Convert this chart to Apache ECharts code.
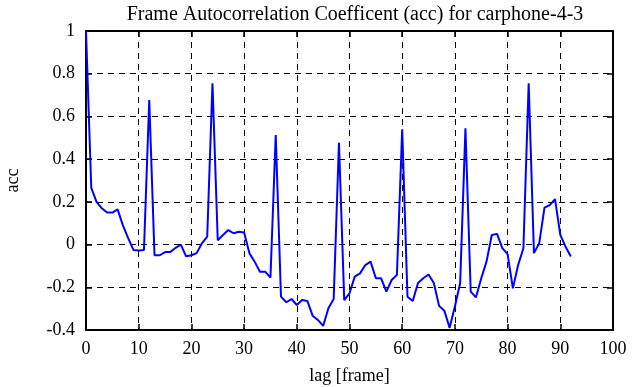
<!DOCTYPE html>
<html>
<head>
<meta charset="utf-8">
<script src="https://cdn.jsdelivr.net/npm/echarts@6/dist/echarts.min.js"></script>
<style>html,body{margin:0;padding:0;background:#fff}#c{width:635px;height:387px}</style>
</head>
<body>
<div id="c"></div>
<script>
const titleText = 'Frame Autocorrelation Coefficent (acc) for carphone-4-3';
const xName = 'lag [frame]';
const yName = 'acc';
const lags = [];
for (let i = 0; i <= 92; i++) lags.push(i);
const acc = [
  1.0, 0.265, 0.20, 0.17, 0.15, 0.15, 0.165, 0.09, 0.03, -0.025,
  -0.028, -0.025, 0.677, -0.05, -0.05, -0.035, -0.035, -0.015, 0.0, -0.055,
  -0.05, -0.04, 0.006, 0.037, 0.755, 0.02, 0.045, 0.068, 0.053, 0.06,
  0.057, -0.04, -0.08, -0.127, -0.127, -0.155, 0.513, -0.244, -0.27, -0.255,
  -0.283, -0.26, -0.264, -0.333, -0.353, -0.381, -0.298, -0.255, 0.477, -0.26,
  -0.228, -0.15, -0.135, -0.096, -0.08, -0.158, -0.158, -0.22, -0.166, -0.142,
  0.54, -0.244, -0.264, -0.18, -0.158, -0.14, -0.18, -0.287, -0.31, -0.39,
  -0.29, -0.18, 0.544, -0.22, -0.247, -0.158, -0.08, 0.045, 0.05, -0.017,
  -0.045, -0.205, -0.096, -0.017, 0.755, -0.04, 0.006, 0.173, 0.185, 0.213,
  0.045, -0.01, -0.056
];
const xTicks = [0,10,20,30,40,50,60,70,80,90,100];
const yTicks = [-0.4,-0.2,0,0.2,0.4,0.6,0.8,1];

const font = 'Liberation Serif';
const black = '#000';
const axisBase = {
  axisLine: { show: true, onZero: false, lineStyle: { color: black, width: 2 } },
  axisTick: { show: true, inside: true, length: 6, lineStyle: { color: black, width: 1.5 } },
};
const chart = echarts.init(document.getElementById('c'), null, { renderer: 'canvas' });
chart.setOption({
  animation: false,
  backgroundColor: '#fff',
  title: {
    text: titleText, left: 350, textAlign: 'center', top: 0,
    textStyle: { fontFamily: font, fontWeight: 'normal', fontSize: 20, color: black }
  },
  grid: { left: 86, right: 22, top: 31, bottom: 57, containLabel: false, outerBoundsMode: 'none' },
  xAxis: [
    Object.assign({
      type: 'value', min: xTicks[0], max: xTicks[xTicks.length - 1], interval: 10,
      position: 'bottom',
      name: xName, nameLocation: 'middle', nameGap: 37,
      nameTextStyle: { fontFamily: font, fontSize: 18, color: black },
      axisLabel: { fontFamily: font, fontSize: 18, color: black, margin: 10 },
      splitLine: { show: true, lineStyle: { color: black, type: [6, 5], width: 1 } }
    }, axisBase),
    Object.assign({
      type: 'value', min: xTicks[0], max: xTicks[xTicks.length - 1], interval: 10,
      position: 'top', axisLabel: { show: false }, splitLine: { show: false }
    }, axisBase)
  ],
  yAxis: [
    Object.assign({
      type: 'value', min: yTicks[0], max: yTicks[yTicks.length - 1], interval: 0.2,
      position: 'left',
      name: yName, nameLocation: 'middle', nameGap: 64, nameRotate: 90,
      nameTextStyle: { fontFamily: font, fontSize: 18, color: black },
      axisLabel: { fontFamily: font, fontSize: 18, color: black, margin: 11,
        formatter: v => String(parseFloat(v.toFixed(1))) },
      splitLine: { show: true, lineStyle: { color: black, type: [6, 5], width: 1 } }
    }, axisBase),
    Object.assign({
      type: 'value', min: yTicks[0], max: yTicks[yTicks.length - 1], interval: 0.2,
      position: 'right', axisLabel: { show: false }, splitLine: { show: false }
    }, axisBase)
  ],
  series: [{
    type: 'line',
    data: lags.map((l, i) => [l, acc[i]]),
    showSymbol: false,
    lineStyle: { color: '#0000ff', width: 2 },
    itemStyle: { color: '#0000ff' },
    z: 5
  }]
});
</script>
</body>
</html>
